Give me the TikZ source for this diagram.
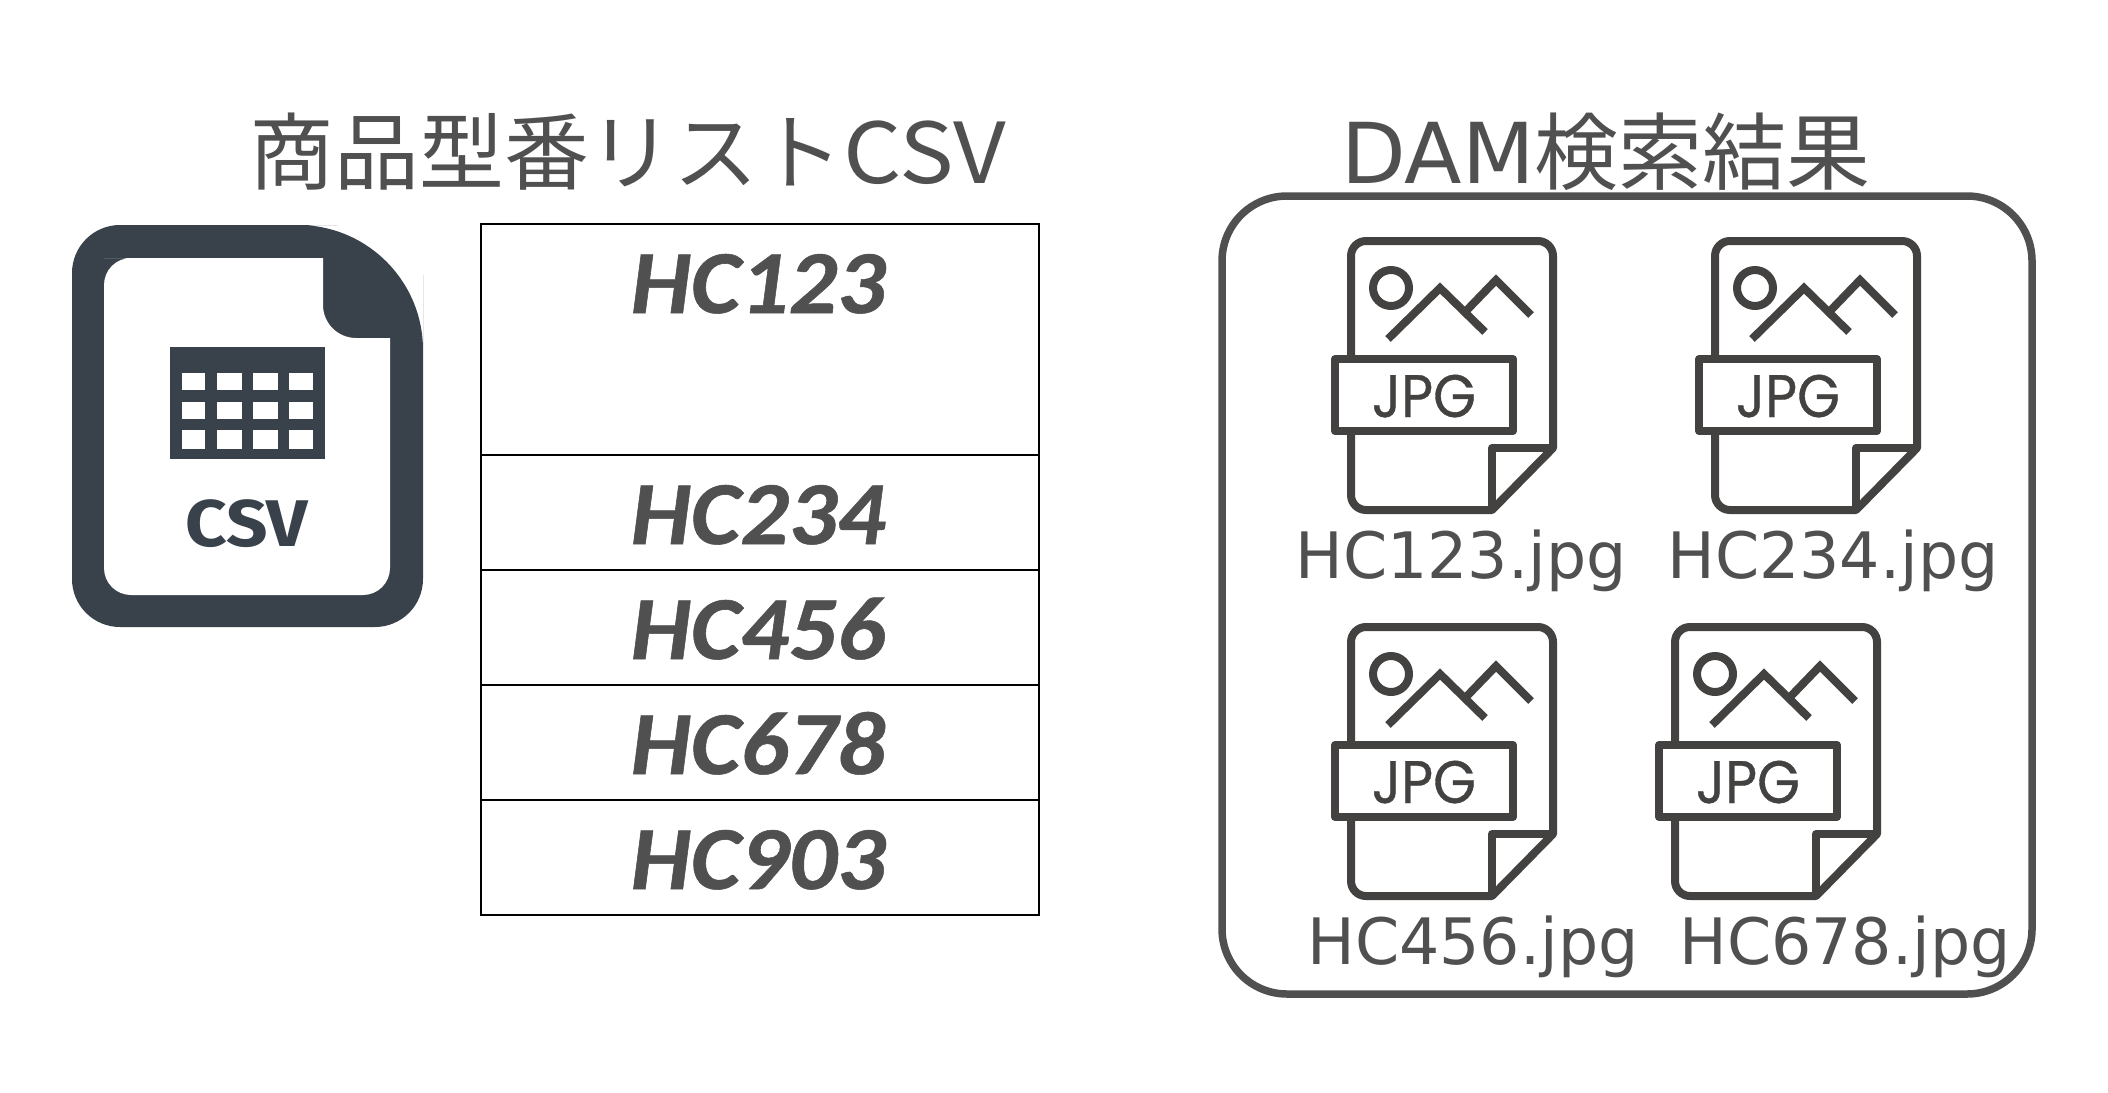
\documentclass[tikz,border=0pt]{standalone}
\usepackage{fontspec}
\usepackage{graphicx}
\setmainfont{DejaVu Sans}
\newfontfamily\cjkf{Noto Sans CJK JP}
\newfontfamily\cellf[BoldItalicFeatures={FakeBold=0.6}]{Carlito}
\newfontfamily\iconf[FakeBold=0.6]{Poppins}
\newfontfamily\csvf{Fira Sans}
\definecolor{txt}{HTML}{505050}
\definecolor{slateicon}{HTML}{39424B}
\definecolor{jpgicon}{HTML}{434241}
\tikzset{
  x=1pt,y=-1pt,
  celltext/.style={anchor=base,inner sep=0pt,text=txt,font=\fontsize{90}{90}\cellf\bfseries\itshape},
  cellbox/.style={draw=black,line width=2pt,inner sep=0pt,minimum width=558pt},
  filelabel/.style={anchor=base,inner sep=0pt,text=txt,font=\fontsize{64}{64}\selectfont},
  heading/.style={anchor=base,inner sep=0pt,text=txt},
  iconline/.style={draw=jpgicon,line width=8pt,line join=round},
  pics/jpgfile/.style={code={
    \draw[iconline] (1351,355) [rounded corners=15pt] -- (1351,241) -- (1553,241) [sharp corners] -- (1553,448) -- (1492,510) [rounded corners=15pt] -- (1351,510) [sharp corners] -- (1351,435);
    \draw[iconline] (1492,510) -- (1492,448) -- (1553,448);
    \draw[iconline] (1335,359) rectangle (1513,431);
    \draw[iconline] (1391,288) circle[radius=18];
    \draw[iconline,line join=miter] (1388,339) -- (1440,288) -- (1485,332);
    \draw[iconline,line join=miter] (1467,310) -- (1496,280) -- (1531,315);
    \node[anchor=base,inner sep=0pt,text=jpgicon,font=\fontsize{60}{60}\iconf] at (1424,417) {\scalebox{0.92}[1]{JPG}};
  }}
}
\begin{document}
\begin{tikzpicture}
\useasboundingbox (0,0) rectangle (2108,1092);
\fill[white] (0,0) rectangle (2108,1092);
% headings
\node[heading,font=\fontsize{84}{84}\cjkf] (t1) at (628,183) {\scalebox{1.01}[1]{商品型番リスト}\scalebox{1.09}[1]{CSV}};
\node[heading,font=\fontsize{84}{84}\selectfont] (t2) at (1606,183) {DAM{\cjkf 検索結果}};
% csv icon
\fill[slateicon] [rounded corners=48pt] (72,225) -- (290,225) [rounded corners=125pt] -- (423,225) -- (423,400) [rounded corners=48pt] -- (423,627) -- (72,627) -- cycle;
\fill[white] [rounded corners=27pt] (104,258) [sharp corners] -- (323,258) [rounded corners=33pt] -- (323,338) [sharp corners] -- (390,338) [rounded corners=27pt] -- (390,595) -- (104,595) -- (104,258) [sharp corners] -- (323,258);
\fill[slateicon] (170,347) rectangle (325,459);
\foreach \cx/\cw in {182/23,217/25,253/25,289/24}{
  \foreach \cy/\ch in {373/17,402/17,430/19}{
    \fill[white] (\cx,\cy) rectangle ++(\cw,\ch);
  }
}
\node[anchor=base,inner sep=0pt,text=slateicon,font=\fontsize{66}{66}\csvf\bfseries] (csvlab) at (247,546) {\scalebox{1.1}[1]{CSV}};
% table
\node[cellbox,minimum height=231pt] (c1) at (760,339) {};
\node[cellbox,minimum height=115pt] (c2) at (760,512) {};
\node[cellbox,minimum height=115pt] (c3) at (760,627) {};
\node[cellbox,minimum height=115pt] (c4) at (760,742) {};
\node[cellbox,minimum height=115pt] (c5) at (760,857) {};
\node[celltext] (v1) at (758,313) {\scalebox{1.06}[1]{HC123}};
\node[celltext] (v2) at (758,544) {\scalebox{1.06}[1]{HC234}};
\node[celltext] (v3) at (758,659) {\scalebox{1.06}[1]{HC456}};
\node[celltext] (v4) at (758,774) {\scalebox{1.06}[1]{HC678}};
\node[celltext] (v5) at (758,889) {\scalebox{1.06}[1]{HC903}};
% frame
\draw[txt,line width=7.5pt,rounded corners=65pt] (1222,196) rectangle (2032,994);
% jpg icons
\pic at (0,0) {jpgfile};
\pic at (364,0) {jpgfile};
\pic at (0,386) {jpgfile};
\pic at (324,386) {jpgfile};
% labels
\node[filelabel] (f1) at (1461,578) {\scalebox{0.99}[1]{HC123.jpg}};
\node[filelabel] (f2) at (1833,578) {\scalebox{0.99}[1]{HC234.jpg}};
\node[filelabel] (f3) at (1473,964) {\scalebox{0.99}[1]{HC456.jpg}};
\node[filelabel] (f4) at (1845,964) {\scalebox{0.99}[1]{HC678.jpg}};
\end{tikzpicture}
\end{document}
